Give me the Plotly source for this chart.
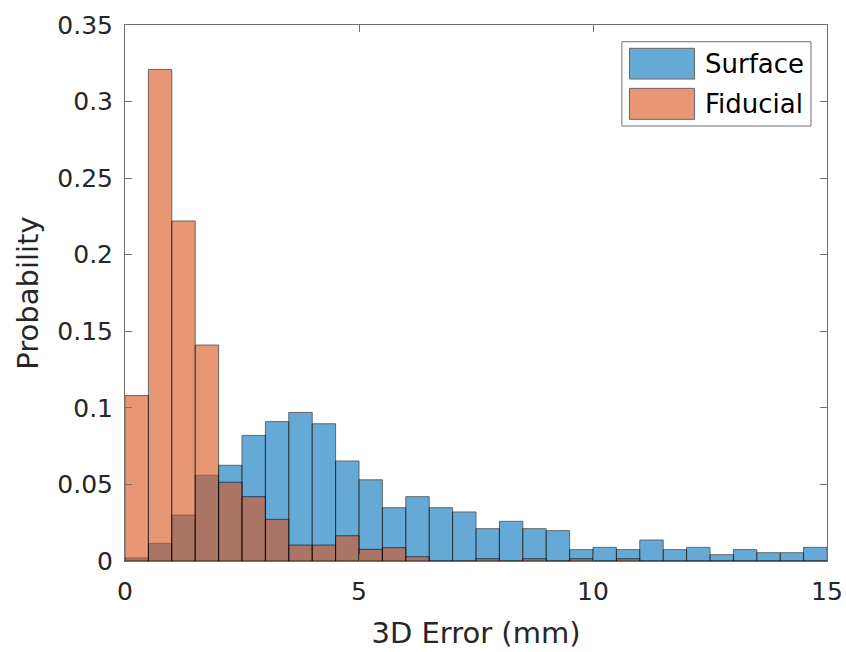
import numpy as np
import plotly.graph_objects as go

# bin edges 0..15 step 0.5 (MATLAB histogram, normalization probability)
bin_edges = np.arange(0, 15.5, 0.5)
bin_centers = (bin_edges[:-1] + bin_edges[1:]) / 2

surface = [0.002, 0.0115, 0.030, 0.056, 0.0625, 0.082, 0.091, 0.097, 0.0896, 0.0653,
           0.053, 0.0348, 0.042, 0.0348, 0.032, 0.0211, 0.0259, 0.0211, 0.0198, 0.0074,
           0.0089, 0.0074, 0.0137, 0.0074, 0.0089, 0.0041, 0.0074, 0.0054, 0.0054, 0.0089]

fiducial = [0.108, 0.321, 0.222, 0.141, 0.0514, 0.042, 0.0272, 0.0104, 0.0104, 0.0165,
            0.0076, 0.0087, 0.0028, 0.0, 0.0, 0.0015, 0.0, 0.0015, 0.0, 0.0015,
            0.0, 0.0015, 0.0, 0.0, 0.0, 0.0, 0.0, 0.0, 0.0, 0.0]

series_names = ["Surface", "Fiducial"]
series_colors = ["rgb(0,114,189)", "rgb(217,83,25)"]

font_family = "DejaVu Sans, Liberation Sans, Arial, sans-serif"
txt = "#262626"
axcol = "#707070"

fig = go.Figure()
for name, vals, col in zip(series_names, [surface, fiducial], series_colors):
    fig.add_trace(go.Bar(
        x=bin_centers, y=vals, width=0.5, name=name,
        marker={"color": col, "opacity": 0.6,
                "line": {"color": "black", "width": 1}},
        showlegend=False,
    ))

axis_common = dict(
    showline=True, linecolor=axcol, linewidth=1, mirror="ticks",
    ticks="inside", ticklen=7, tickcolor=axcol,
    showgrid=False, zeroline=False, automargin=False,
    tickfont={"size": 25, "color": txt, "family": font_family},
)

fig.update_layout(
    width=846, height=652,
    margin={"l": 125, "r": 19, "t": 25, "b": 91},
    barmode="overlay",
    plot_bgcolor="white", paper_bgcolor="white",
    font={"family": font_family, "color": txt},
    xaxis=dict(axis_common, range=[0, 15], tickvals=[0, 5, 10, 15],
               ticklabelstandoff=8,
               title={"text": "3D Error (mm)", "font": {"size": 29, "color": txt}, "standoff": 17}),
    yaxis=dict(axis_common, range=[0, 0.35],
               tickvals=[0, 0.05, 0.1, 0.15, 0.2, 0.25, 0.3, 0.35],
               ticktext=["0", "0.05", "0.1", "0.15", "0.2", "0.25", "0.3", "0.35"],
               ticklabelstandoff=6,
               title={"text": "Probability", "font": {"size": 29, "color": txt}, "standoff": 10}),
    showlegend=False,
)

# MATLAB-style legend box with wide swatches (paper coordinates)
fig.add_shape(type="rect", xref="paper", yref="paper", x0=0.7078, x1=0.9772, y0=0.8115, y1=0.9688,
              line={"color": axcol, "width": 1}, fillcolor="white", layer="above")
swatch_y = [(0.8992, 0.9565), (0.8240, 0.8818)]
for name, col, (y0, y1) in zip(series_names, series_colors, swatch_y):
    fig.add_shape(type="rect", xref="paper", yref="paper", x0=0.7187, x1=0.8113, y0=y0, y1=y1,
                  line={"color": "black", "width": 1}, fillcolor=col, opacity=0.6, layer="above")
    fig.add_annotation(x=0.8236, y=(y0 + y1) / 2, xref="paper", yref="paper", text=name,
                       showarrow=False, xanchor="left", yanchor="middle",
                       font={"size": 26, "color": "black", "family": font_family})

fig.write_html("out.html", config={"displayModeBar": False},
               post_script="document.body.style.margin='0px';")
